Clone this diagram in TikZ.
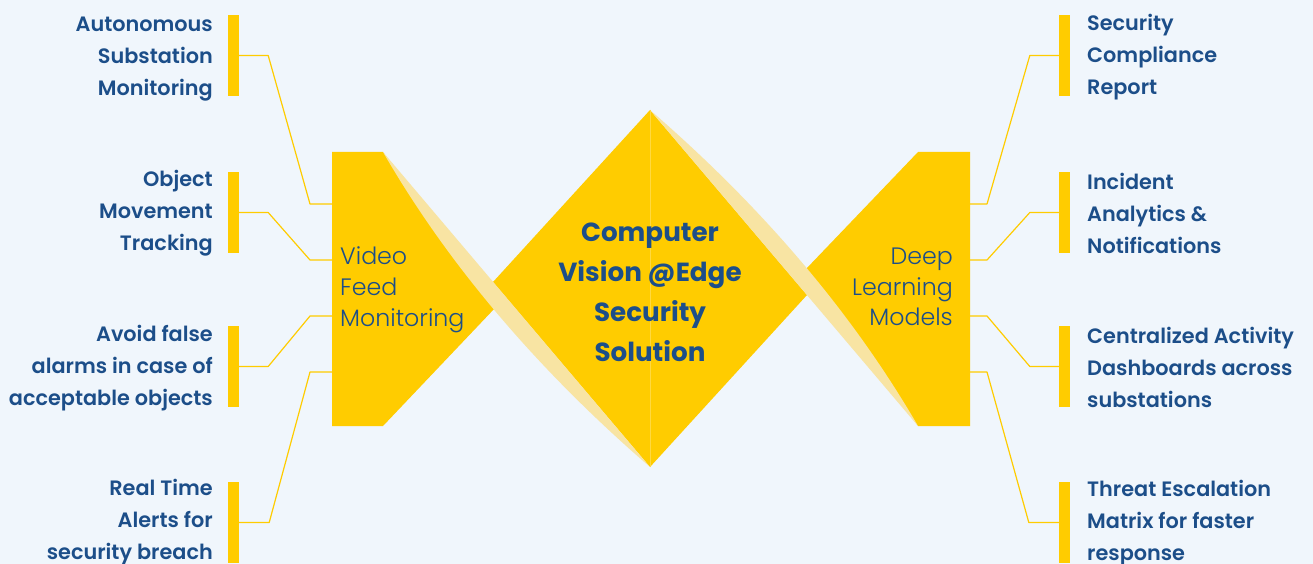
\documentclass[tikz,border=0pt]{standalone}
\usepackage{fontspec}
\IfFontExistsTF{Poppins SemiBold}{\newfontfamily\lblfontA{Poppins SemiBold}\newcommand\lblfont{\lblfontA}}{\newfontfamily\lblfontA{Poppins}\newcommand\lblfont{\lblfontA\bfseries}}
\IfFontExistsTF{Poppins Light}{\newfontfamily\litfont{Poppins Light}}{\newfontfamily\litfont{Poppins}}
\newfontfamily\popfont{Poppins}
\definecolor{bgc}{HTML}{F0F6FC}
\definecolor{yel}{HTML}{FFCC00}
\definecolor{pale}{HTML}{F8E4A3}
\definecolor{txtblue}{HTML}{1C4E89}
\tikzset{
  bar/.style={fill=yel, draw=none, inner sep=0pt, minimum width=11pt, minimum height=81pt},
  conn/.style={draw=yel, line width=1.2pt, line join=round},
  lbl/.style={inner sep=0pt, text=txtblue, font=\lblfont\fontsize{20.8}{32}\selectfont},
  lblL/.style={lbl, anchor=east, align=right},
  lblR/.style={lbl, anchor=west, align=left},
  mid/.style={inner sep=0pt, text=txtblue, font=\litfont\fontsize{23.7}{30.8}\selectfont},
  ctr/.style={inner sep=0pt, text=txtblue, align=center, font=\popfont\bfseries\fontsize{26.2}{40}\selectfont}
}
\begin{document}
\begin{tikzpicture}[x=1pt,y=-1pt]
\useasboundingbox (0,0) rectangle (1313,564);
\fill[bgc] (0,0) rectangle (1313,564);

% side shapes
\fill[yel] (332,152) -- (383,152) -- (495,308) -- (383,426) -- (332,426) -- cycle;
\fill[yel] (970,152) -- (918,152) -- (806,269) -- (918,426) -- (970,426) -- cycle;
% central diamond
\fill[yel] (650,110) -- (807,295) -- (650,467) -- (493,282) -- cycle;
% twisted ribbons
\fill[pale] (383,152) -- (650,467) .. controls (536.7,369) and (447.7,264) .. (383,152) -- cycle;
\fill[pale] (918,426) -- (650,110) .. controls (763.3,208) and (852.3,313) .. (918,426) -- cycle;
% seam
\draw[yel!75!white, line width=0.5pt] (650,110) -- (650,467);

% attachment points on the side shapes
\coordinate (L1) at (332,204);
\coordinate (L2) at (332,260);
\coordinate (L3) at (332,316);
\coordinate (L4) at (332,372);
\coordinate (R1) at (970,204);
\coordinate (R2) at (970,260);
\coordinate (R3) at (970,316);
\coordinate (R4) at (970,372);

% bars
\node[bar] (lb1) at (233.5,55.5) {};
\node[bar] (lb2) at (233.5,212.5) {};
\node[bar] (lb3) at (233.5,366.5) {};
\node[bar] (lb4) at (233.5,522.5) {};
\node[bar] (rb1) at (1064.5,55.5) {};
\node[bar] (rb2) at (1064.5,212.5) {};
\node[bar] (rb3) at (1064.5,366.5) {};
\node[bar] (rb4) at (1064.5,522.5) {};

% connectors
\draw[conn] (lb1.east) -- ++(29,0) -- ([xshift=-22pt]L1) -- (L1);
\draw[conn] (lb2.east) -- ++(29,0) -- ([xshift=-22pt]L2) -- (L2);
\draw[conn] (lb3.east) -- ++(29,0) -- ([xshift=-22pt]L3) -- (L3);
\draw[conn] (lb4.east) -- ++(30,0) -- ([xshift=-22pt]L4) -- (L4);
\draw[conn] (R1) -- ++(17,0) -- ([xshift=-29pt]rb1.west) -- (rb1.west);
\draw[conn] (R2) -- ++(17,0) -- ([xshift=-29pt]rb2.west) -- (rb2.west);
\draw[conn] (R3) -- ++(17,0) -- ([xshift=-29pt]rb3.west) -- (rb3.west);
\draw[conn] (R4) -- ++(17,0) -- ([xshift=-30pt]rb4.west) -- (rb4.west);

% labels left
\node[lblL] (t1) at (213,57.1) {\strut Autonomous\\Substation\\Monitoring\strut};
\node[lblL] (t2) at (213,212.1) {\strut Object\\Movement\\Tracking\strut};
\node[lblL] (t3) at (213,367.3) {\strut Avoid false\\alarms in case of\\acceptable objects\strut};
\node[lblL] (t4) at (213,521.3) {\strut Real Time\\Alerts for\\security breach\strut};
% labels right
\node[lblR] (s1) at (1087,56.3) {\strut Security\\Compliance\\Report\strut};
\node[lblR] (s2) at (1087,214.6) {\strut Incident\\Analytics \&\\Notifications\strut};
\node[lblR] (s3) at (1087,369) {\strut Centralized Activity\\Dashboards across\\substations\strut};
\node[lblR] (s4) at (1087,522.3) {\strut Threat Escalation\\Matrix for faster\\response\strut};

% inner labels
\node[mid, anchor=west, align=left] (vfm) at (340,289.6) {\strut Video\\Feed\\Monitoring\strut};
\node[mid, anchor=east, align=right] (dlm) at (953,289) {\strut Deep\\Learning\\Models\strut};
\node[ctr] (core) at (650,293.7) {\strut Computer\\Vision @Edge\\Security\\Solution\strut};
\end{tikzpicture}
\end{document}
